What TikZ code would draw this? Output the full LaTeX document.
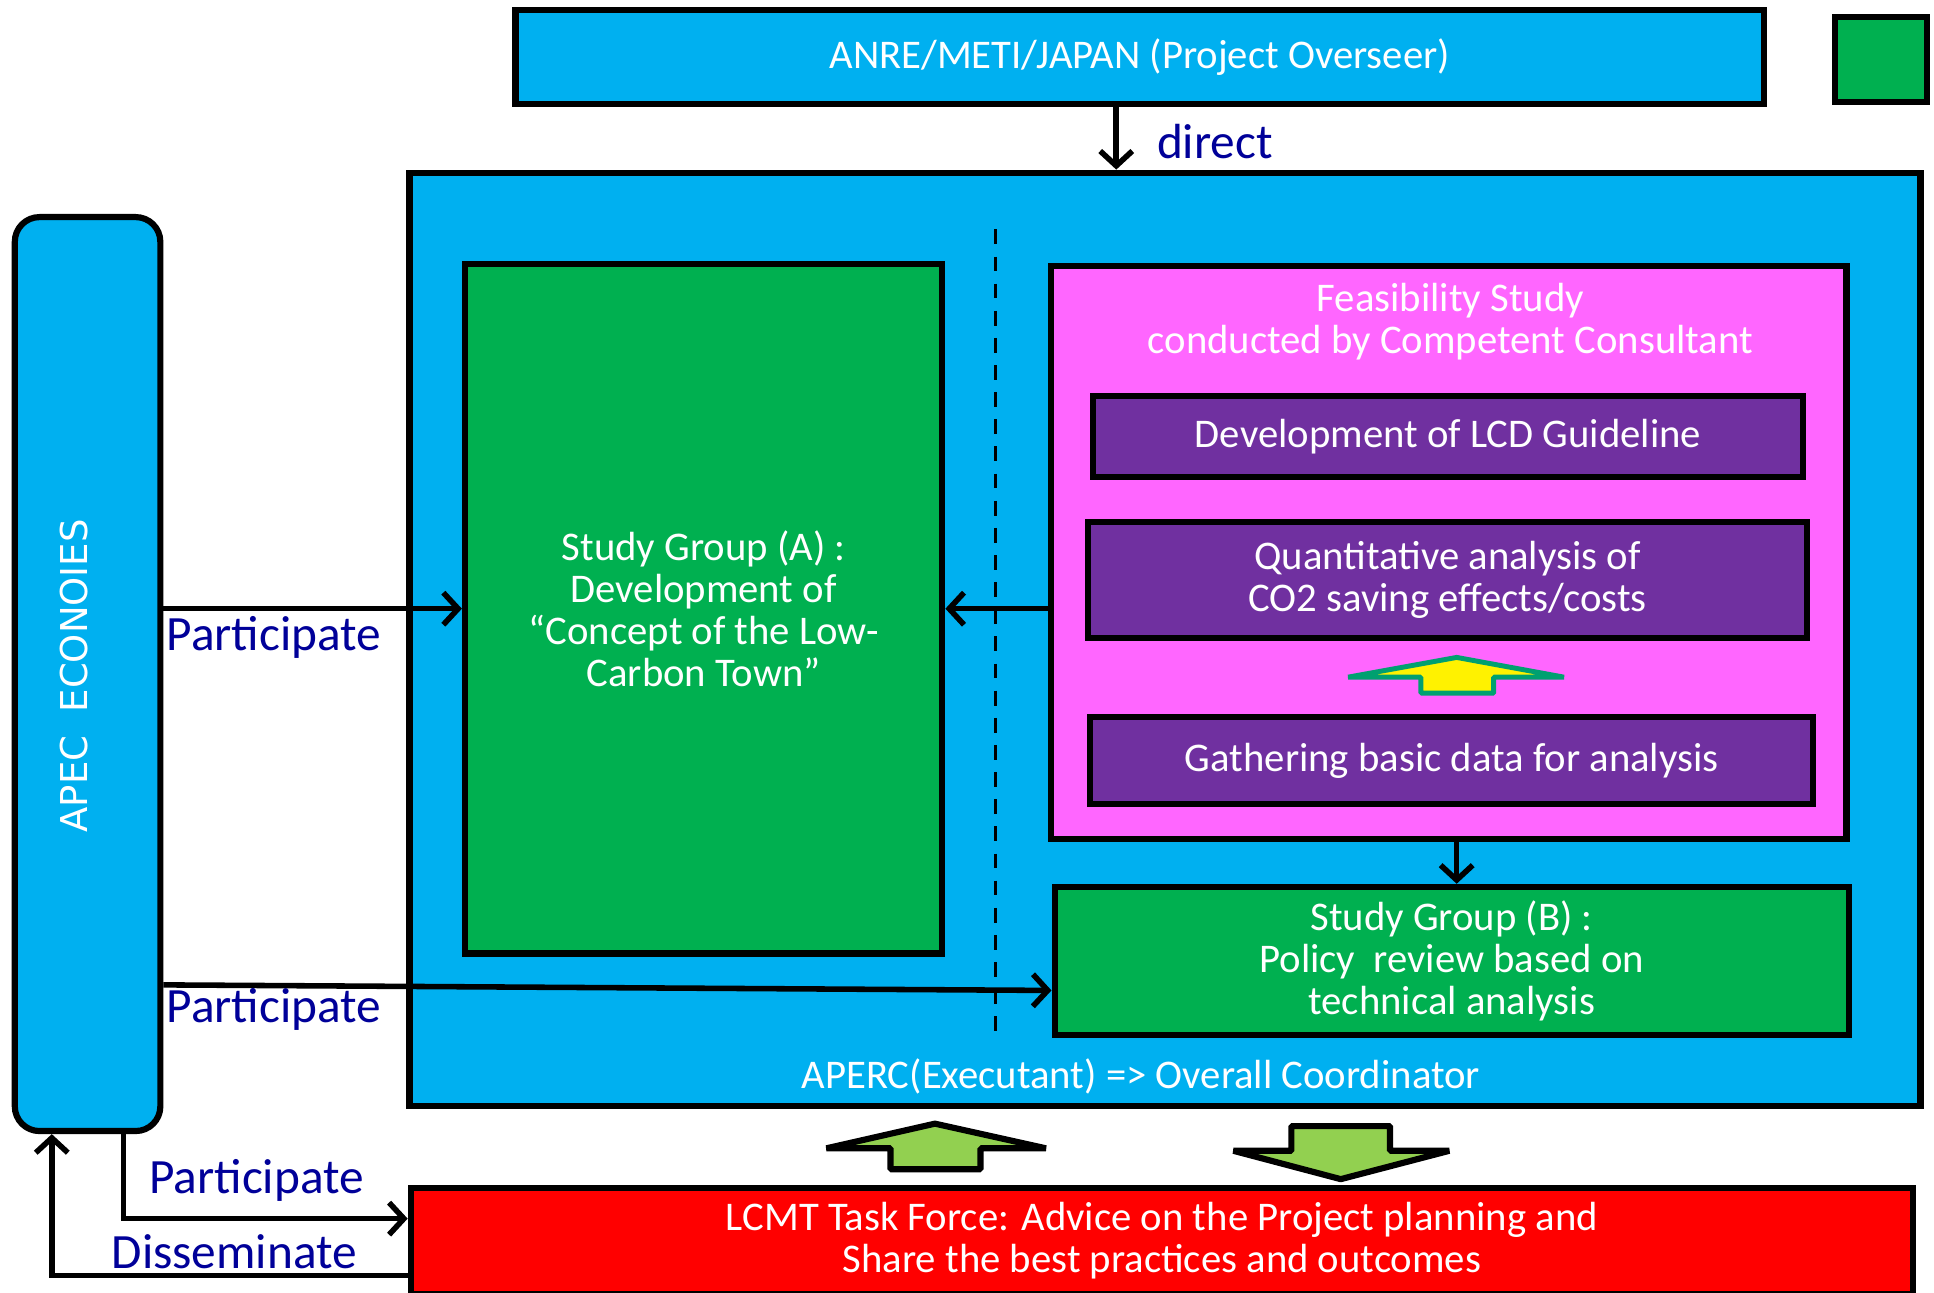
\documentclass[tikz,border=0pt]{standalone}
\usepackage{fontspec}
\setmainfont{Carlito}
\newfontfamily\apecfont{DejaVu Sans}
\usepackage{xcolor}
\usepackage{tikz}
\usetikzlibrary{positioning,arrows.meta}

\definecolor{skyblue}{HTML}{00B0F0}
\definecolor{boxgreen}{HTML}{00B050}
\definecolor{fspink}{HTML}{FF66FF}
\definecolor{taskpurple}{HTML}{7030A0}
\definecolor{lightgreen}{HTML}{92D050}
\definecolor{tealline}{HTML}{00A070}
\definecolor{labelblue}{HTML}{000099}

\tikzset{
  box/.style={draw=black,line width=5pt,text=white,align=center,inner sep=0pt,
    font=\fontsize{33}{34}\selectfont},
  lbl/.style={text=labelblue,font=\fontsize{40}{44}\selectfont,inner sep=0pt},
  link/.style={->,line width=4.5pt},
  blockarrow/.style={line width=5pt,line join=bevel,fill=lightgreen}
}

\begin{document}
\begin{tikzpicture}[x=1pt,y=-1pt,>={Straight Barb[length=12pt,width=26pt,line width=4.5pt]}]
\useasboundingbox (0,0) rectangle (1568,1048);
% top and outer boxes
\node[box,fill=skyblue,minimum width=1012pt,minimum height=76pt] (anre) at (924,46) {ANRE/METI/JAPAN (Project Overseer)};
\node[box,fill=boxgreen,minimum width=75pt,minimum height=69pt] (gsq) at (1525,48) {};
\node[box,fill=skyblue,minimum width=1225pt,minimum height=757pt] (aperc) at (944.5,518.5) {};
\node[box,text=white] (apercl) at (925,873) [draw=none] {APERC(Executant) => Overall Coordinator};
\node[box,fill=skyblue,rounded corners=20pt,minimum width=118pt,minimum height=741pt] (apec) at (71,546.5) {};
\node[text=white,rotate=90,font=\apecfont\fontsize{30}{34}\selectfont] (apecl) at (60,548) {APEC\ \ ECONOIES};
% study groups
\node[box,fill=boxgreen,minimum width=387pt,minimum height=559pt] (sga) at (570.5,493.5) {Study Group (A) :\\ Development of\\ “Concept of the Low-\\ Carbon Town”};
\draw[line width=3pt,dash pattern=on 12pt off 10pt] (807,186) -- (807,840);
\node[box,fill=fspink,minimum width=645pt,minimum height=464pt] (fs) at (1174.5,448) {};
\node[box,draw=none] (fsl) at (1176,261) {Feasibility Study\\ conducted by Competent Consultant};
\node[box,fill=taskpurple,minimum width=576pt,minimum height=66pt] (lcd) at (1174,354) {Development of LCD Guideline};
\node[box,fill=taskpurple,minimum width=583pt,minimum height=94pt] (qa) at (1173.5,470) {Quantitative analysis of\\ CO2 saving effects/costs};
\node[box,fill=taskpurple,minimum width=586pt,minimum height=71pt] (gb) at (1177,616.5) {Gathering basic data for analysis};
\node[box,fill=boxgreen,minimum width=644pt,minimum height=120pt] (sgb) at (1177,779) {Study Group (B) :\\ Policy\ \ review based on\\ technical analysis};
\node[box,fill=red,minimum width=1218pt,minimum height=86pt] (lcmt) at (942,1006) {LCMT Task Force: Advice on the Project planning and\\ Share the best practices and outcomes};
% block arrows
\draw[tealline,line width=4pt,line join=bevel,fill=yellow] (1181,533) -- (1268,549) -- (1211,549) -- (1211,562) -- (1152,562) -- (1152,549) -- (1093,549) -- cycle;
\draw[blockarrow] (758,911) -- (848,931) -- (795,931) -- (795,948) -- (722,948) -- (722,931) -- (670,931) -- cycle;
\draw[blockarrow] (1047,913) -- (1127,913) -- (1127,933) -- (1175,933) -- (1087,956) -- (1000,933) -- (1047,933) -- cycle;
% connectors
\draw[link] ([xshift=-19pt]anre.south) -- ([xshift=-19pt]anre.south |- aperc.north);
\node[lbl] (dirl) at (985,115) {direct};
\draw[link] (apec.east |- sga.west) -- (sga.west);
\node[lbl] (par1) at (222,517) {Participate};
\draw[link] (fs.west |- sga.east) -- (sga.east);
\draw[link] ([xshift=4pt]sgb.north |- fs.south) -- ([xshift=4pt]sgb.north);
\draw[link] ([yshift=-252pt]apec.east) -- ([yshift=-24pt]sgb.west);
\node[lbl] (par2) at (222,818) {Participate};
\draw[link] ([xshift=29pt]apec.south) |- ([yshift=18pt]lcmt.west);
\node[lbl] (par3) at (208,957) {Participate};
\draw[link] ([yshift=-28pt]lcmt.west) -| ([xshift=-29pt]apec.south);
\node[lbl] (dis) at (190,1015) {Disseminate};
\end{tikzpicture}
\end{document}
